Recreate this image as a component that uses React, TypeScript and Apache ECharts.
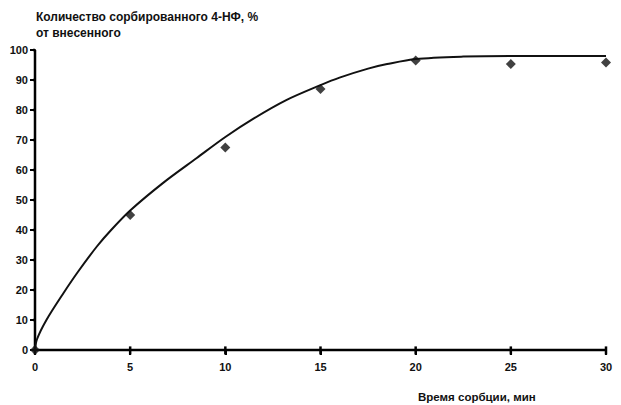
import React, { useEffect, useRef } from "react";
import * as echarts from "echarts";

const titleLines = ["Количество сорбированного 4-НФ, %", "от внесенного"];
const xAxisName = "Время сорбции, мин";
const xTicks = [0, 5, 10, 15, 20, 25, 30];
const yTicks = [0, 10, 20, 30, 40, 50, 60, 70, 80, 90, 100];

// measured points (time, min ; sorbed, %)
const pointTimes = [0, 5, 10, 15, 20, 25, 30];
const pointValues = [0, 45, 67.5, 87, 96.5, 95.3, 95.8];

// fitted curve
const curveTimes = [0, 0.1, 0.6, 1.5, 2.25, 3.25, 4, 5, 6.75, 8.5, 10, 11.5, 13.2, 15, 16, 17.5, 18.5, 20, 22.5, 25, 30];
const curveValues = [0, 3.5, 10, 19, 26, 34.5, 40, 46.5, 55.8, 64, 71, 77.2, 83.3, 88.3, 90.8, 93.8, 95.3, 97, 97.8, 98, 98];

const FONT = "'Liberation Sans', Arial, sans-serif";
const INK = "#000";

export default function App() {
  const ref = useRef<HTMLDivElement>(null);
  useEffect(() => {
    if (!ref.current) return;
    const chart = echarts.init(ref.current, null, { renderer: "svg" });
    const xMin = xTicks[0];
    const xMax = xTicks[xTicks.length - 1];
    const yMin = yTicks[0];
    const yMax = yTicks[yTicks.length - 1];
    const segStyle = { color: INK, width: 2.5 };
    const segment = (pts: number[][]) => ({
      type: "line",
      data: pts,
      showSymbol: false,
      silent: true,
      clip: false,
      smooth: false,
      lineStyle: segStyle,
      z: 1,
    });
    const axisSeries = [
      segment([[xMin, yMin], [xMax, yMin]]),
      segment([[xMin, yMin], [xMin, yMax]]),
      ...xTicks.map((t) => segment([[t, yMin + 1.2], [t, yMin - 1.5]])),
      ...yTicks.map((v) => segment([[xMin, v], [xMin - 0.22, v]])),
    ];
    chart.setOption({
      animation: false,
      grid: { left: 35, right: 15, top: 50, bottom: 55 },
      graphic: [
        {
          type: "text",
          left: 36,
          top: 9,
          style: {
            text: titleLines.join("\n"),
            font: `bold 12px ${FONT}`,
            fill: "#111",
            lineHeight: 16,
          },
        },
        {
          type: "text",
          left: 418,
          top: 391,
          style: {
            text: xAxisName,
            font: `bold 11.5px ${FONT}`,
            fill: "#111",
          },
        },
      ],
      xAxis: {
        type: "value",
        min: xMin,
        max: xMax,
        interval: 5,
        axisLine: { show: true, lineStyle: { color: INK, width: 2 } },
        axisTick: { show: true, lineStyle: { color: INK, width: 2 } },
        axisLabel: {
          color: "#111",
          fontSize: 11,
          fontWeight: "bold",
          fontFamily: FONT,
          margin: 11,
        },
        splitLine: { show: false },
      },
      yAxis: {
        type: "value",
        min: yMin,
        max: yMax,
        interval: 10,
        axisLine: { show: true, lineStyle: { color: INK, width: 2 } },
        axisTick: { show: true, lineStyle: { color: INK, width: 2 } },
        axisLabel: {
          color: "#111",
          fontSize: 11,
          fontWeight: "bold",
          fontFamily: FONT,
          margin: 7,
        },
        splitLine: { show: false },
      },
      series: [
        ...axisSeries,
        {
          type: "line",
          data: curveTimes.map((t, i) => [t, curveValues[i]]),
          smooth: 0.3,
          showSymbol: false,
          lineStyle: { color: "#111", width: 2 },
          z: 2,
        },
        {
          type: "scatter",
          data: pointTimes.map((t, i) => [t, pointValues[i]]),
          symbol: "diamond",
          symbolSize: 10,
          itemStyle: { color: "#111" },
          clip: false,
          z: 3,
        },
      ],
    });
    return () => chart.dispose();
  }, []);
  return (
    <div
      ref={ref}
      style={{ position: "absolute", left: 0, top: 0, width: 621, height: 405, background: "#fff" }}
    />
  );
}
